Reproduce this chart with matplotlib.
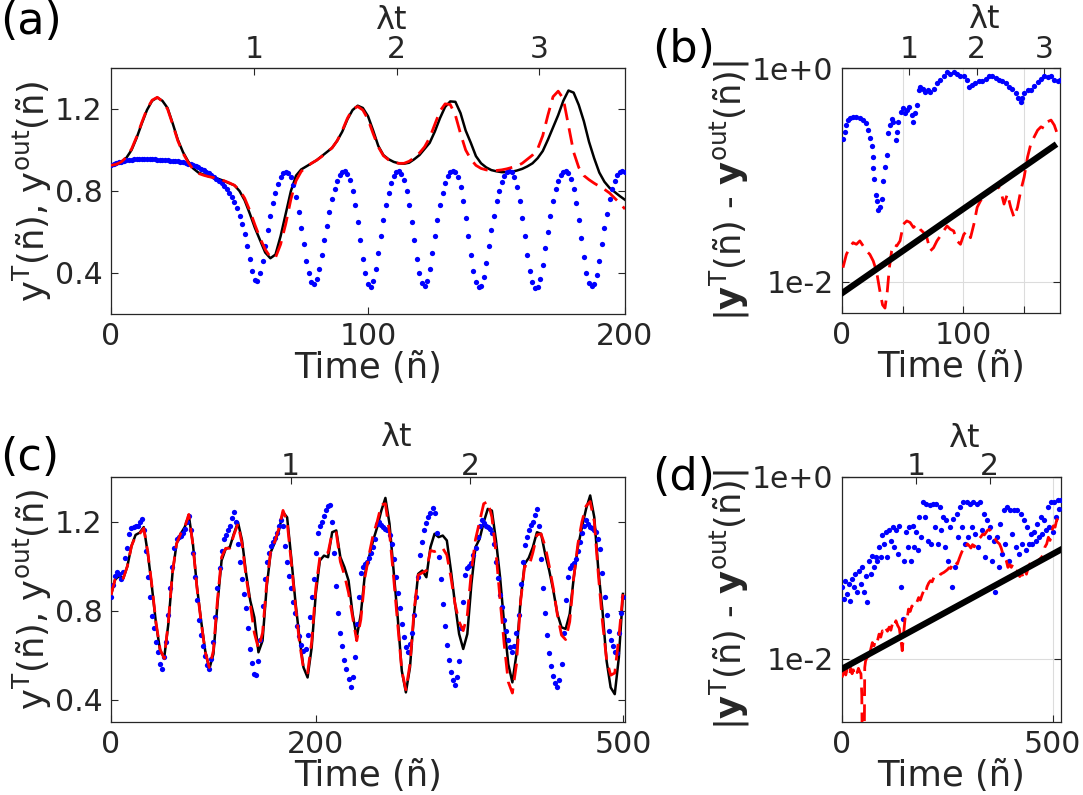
import numpy as np
import matplotlib
matplotlib.use("Agg")
import matplotlib.pyplot as plt
from matplotlib.ticker import NullLocator

plt.rcParams["font.family"] = "DejaVu Sans"
plt.rcParams["mathtext.default"] = "regular"
plt.rcParams["font.size"] = 21

lam_ab = 0.018
lam_cd = 0.0057

# ---------------- panel (a) ----------------
t_a_line = np.arange(0, 201, 2)
black_a = [0.925, 0.93, 0.94, 0.962, 1.0, 1.06, 1.13, 1.195, 1.24, 1.256,
           1.24, 1.205, 1.13, 1.05, 0.99, 0.945, 0.91, 0.89, 0.88, 0.872,
           0.866, 0.858, 0.849, 0.838, 0.828, 0.80, 0.755, 0.69, 0.62, 0.56,
           0.5, 0.472, 0.49, 0.58, 0.69, 0.80, 0.875, 0.905, 0.92, 0.935,
           0.95, 0.97, 0.99, 1.01, 1.045, 1.09, 1.15, 1.195, 1.216, 1.205,
           1.165, 1.095, 1.02, 0.975, 0.955, 0.942, 0.935, 0.933, 0.938, 0.955,
           0.975, 1.005, 1.035, 1.09, 1.155, 1.21, 1.237, 1.235, 1.18, 1.095,
           1.035, 0.97, 0.935, 0.915, 0.902, 0.896, 0.892, 0.892, 0.894, 0.9,
           0.908, 0.92, 0.935, 0.96, 0.995, 1.05, 1.11, 1.17, 1.24, 1.29,
           1.28, 1.22, 1.14, 1.04, 0.96, 0.89, 0.845, 0.815, 0.795, 0.775,
           0.757]
red_a = [0.925, 0.93, 0.942, 0.965, 1.005, 1.065, 1.135, 1.2, 1.243, 1.257,
         1.238, 1.2, 1.125, 1.045, 0.985, 0.94, 0.905, 0.886, 0.877, 0.87,
         0.865, 0.858, 0.85, 0.84, 0.828, 0.805, 0.765, 0.705, 0.635, 0.57,
         0.515, 0.478, 0.475, 0.54, 0.64, 0.76, 0.85, 0.895, 0.918, 0.935,
         0.95, 0.968, 0.99, 1.01, 1.045, 1.095, 1.155, 1.2, 1.212, 1.195,
         1.15, 1.08, 1.015, 0.972, 0.952, 0.94, 0.935, 0.935, 0.945, 0.962,
         0.985, 1.015, 1.06, 1.125, 1.19, 1.225, 1.222, 1.17, 1.08, 1.0,
         0.955, 0.925, 0.91, 0.903, 0.9, 0.9, 0.903, 0.908, 0.915, 0.922,
         0.935, 0.955, 0.975, 1.005, 1.07, 1.17, 1.26, 1.287, 1.25, 1.12,
         0.99, 0.915, 0.875, 0.855, 0.838, 0.823, 0.808, 0.79, 0.765, 0.74,
         0.712]
t_a_dots = np.arange(0, 201)
blue_a = [0.925, 0.93, 0.935, 0.94, 0.943, 0.946, 0.949, 0.951, 0.953, 0.954,
          0.955, 0.955, 0.956, 0.956, 0.956, 0.955, 0.955, 0.954, 0.953, 0.952,
          0.951, 0.95, 0.949, 0.948, 0.947, 0.945, 0.944, 0.942, 0.94, 0.937,
          0.934, 0.93, 0.926, 0.921, 0.915, 0.909, 0.902, 0.895, 0.887, 0.879,
          0.87, 0.86, 0.85, 0.838, 0.825, 0.81, 0.79, 0.77, 0.745, 0.715,
          0.68, 0.64, 0.59, 0.53, 0.47, 0.41, 0.365, 0.36, 0.40, 0.46,
          0.53, 0.61, 0.68, 0.74, 0.79, 0.835, 0.87, 0.888, 0.895, 0.89,
          0.87, 0.83, 0.77, 0.70, 0.62, 0.54, 0.46, 0.40, 0.355, 0.345,
          0.37, 0.42, 0.49, 0.56, 0.63, 0.70, 0.76, 0.81, 0.85, 0.88,
          0.895, 0.898, 0.885, 0.855, 0.80, 0.73, 0.65, 0.56, 0.47, 0.40,
          0.345, 0.33, 0.36, 0.42, 0.50, 0.58, 0.66, 0.73, 0.79, 0.84,
          0.875, 0.893, 0.897, 0.885, 0.855, 0.80, 0.73, 0.65, 0.56, 0.47,
          0.40, 0.35, 0.335, 0.36, 0.42, 0.50, 0.58, 0.66, 0.73, 0.79,
          0.84, 0.875, 0.895, 0.9, 0.895, 0.87, 0.82, 0.75, 0.67, 0.58,
          0.49, 0.41, 0.355, 0.33, 0.335, 0.38, 0.45, 0.53, 0.61, 0.68,
          0.75, 0.80, 0.845, 0.875, 0.893, 0.9, 0.895, 0.87, 0.82, 0.75,
          0.67, 0.58, 0.49, 0.41, 0.355, 0.325, 0.33, 0.37, 0.44, 0.52,
          0.60, 0.68, 0.75, 0.81, 0.85, 0.88, 0.895, 0.9, 0.89, 0.86,
          0.81, 0.74, 0.66, 0.57, 0.48, 0.40, 0.35, 0.335, 0.345, 0.39,
          0.46, 0.54, 0.62, 0.69, 0.76, 0.81, 0.85, 0.88, 0.895, 0.9,
          0.895]

# ---------------- panel (b) ----------------
t_b_blue = [0.8, 2.2, 3.6, 5.0, 6.9, 9.1, 11.9, 14.7, 17.5, 20.2,
            21.6, 23.0, 24.4, 25.2, 25.8, 26.6, 27.7, 28.5, 29.9, 31.3,
            32.7, 34.1, 35.5, 36.8, 38.2, 39.6, 41.0, 42.4, 44.6, 45.2,
            46.5, 48.5, 50.1, 52.1, 54.0, 55.7, 57.6, 59.0, 60.4, 61.8,
            63.2, 64.5, 66.8, 68.7, 70.6, 72.9, 75.6, 78.4, 81.2, 83.9,
            86.7, 89.5, 92.2, 95.0, 97.8, 100.6, 102.8, 104.7, 107.5, 110.2,
            113.0, 115.8, 118.6, 121.3, 124.1, 126.9, 129.6, 132.4, 135.2, 137.9,
            140.7, 143.5, 145.4, 147.6, 149.0, 150.4, 153.2, 156.0, 158.7, 161.5,
            164.3, 167.0, 169.8, 172.6, 175.3, 178.1, 180.3]
blue_b = [0.219, 0.253, 0.292, 0.326, 0.338, 0.345, 0.345, 0.338, 0.326, 0.308,
          0.262, 0.224, 0.187, 0.147, 0.117, 0.092, 0.0655, 0.0575, 0.047, 0.0498,
          0.0597, 0.0887, 0.119, 0.153, 0.248, 0.292, 0.331, 0.315, 0.211, 0.253,
          0.315, 0.391, 0.42, 0.382, 0.406, 0.43, 0.363, 0.315, 0.377, 0.452,
          0.625, 0.671, 0.634, 0.603, 0.625, 0.603, 0.634, 0.723, 0.766, 0.836,
          0.91, 0.885, 0.91, 0.885, 0.847, 0.847, 0.776, 0.662, 0.697, 0.723,
          0.748, 0.748, 0.787, 0.836, 0.847, 0.805, 0.776, 0.748, 0.723, 0.671,
          0.634, 0.582, 0.521, 0.485, 0.521, 0.582, 0.617, 0.625, 0.682, 0.733,
          0.787, 0.836, 0.822, 0.847, 0.776, 0.748, 0.776]
t_b_red = [0.8, 3.6, 6.4, 9.1, 11.9, 14.7, 17.5, 20.2, 23.0, 25.8,
           28.5, 31.3, 33.5, 35.5, 37.4, 39.1, 41.0, 42.9, 45.2, 47.9,
           50.7, 53.5, 56.2, 59.0, 61.8, 64.5, 67.3, 70.1, 72.9, 75.6,
           78.4, 81.2, 83.9, 86.7, 89.5, 92.2, 95.0, 97.8, 100.6, 103.3,
           106.1, 108.9, 111.6, 114.4, 117.2, 119.9, 122.7, 125.5, 128.3, 131.0,
           133.8, 136.6, 139.3, 142.1, 144.9, 147.6, 150.4, 153.2, 156.0, 158.7,
           161.5, 164.3, 167.0, 169.8, 172.6, 175.3, 178.1]
red_b = [0.0136, 0.0181, 0.0209, 0.0233, 0.0225, 0.0242, 0.0217, 0.0195, 0.0181, 0.0157,
         0.0126, 0.0082, 0.0061, 0.0057, 0.0082, 0.0136, 0.0195, 0.0225, 0.0217, 0.0242,
         0.0347, 0.0372, 0.036, 0.0323, 0.0347, 0.0311, 0.029, 0.0259, 0.0195, 0.0209,
         0.0242, 0.0269, 0.03, 0.0334, 0.0311, 0.03, 0.0242, 0.0225, 0.0279, 0.03,
         0.0259, 0.0347, 0.0498, 0.0575, 0.0618, 0.0665, 0.0714, 0.0767, 0.0796, 0.0714,
         0.0535, 0.0665, 0.0498, 0.0401, 0.0498, 0.0714, 0.0955, 0.147, 0.197, 0.227,
         0.262, 0.282, 0.272, 0.315, 0.326, 0.292, 0.236]
t_b_fit = [1, 175]
fit_b = [0.008, 0.187]

# ---------------- panel (c) ----------------
t_c_line = np.arange(0, 501, 4)
black_c = [0.87, 0.94, 0.955, 0.945, 1.0, 1.09, 1.14, 1.15, 1.175, 1.055,
           0.905, 0.74, 0.62, 0.59, 0.74, 0.965, 1.1, 1.145, 1.175, 1.227,
           1.1, 0.905, 0.755, 0.62, 0.538, 0.605, 0.83, 1.025, 1.077, 1.085,
           1.145, 1.197, 1.115, 0.965, 0.845, 0.77, 0.613, 0.665, 0.905, 1.062,
           1.107, 1.16, 1.242, 1.219, 1.04, 0.845, 0.68, 0.545, 0.5, 0.635,
           0.875, 1.025, 1.047, 1.04, 1.152, 1.16, 1.04, 0.995, 0.935, 0.785,
           0.68, 0.785, 0.965, 1.04, 1.115, 1.175, 1.249, 1.306, 1.19, 0.98,
           0.77, 0.53, 0.433, 0.545, 0.785, 0.965, 0.98, 0.95, 1.085, 1.145,
           1.13, 1.137, 1.115, 0.98, 0.83, 0.695, 0.628, 0.695, 0.92, 1.085,
           1.122, 1.197, 1.257, 1.249, 1.115, 0.95, 0.74, 0.56, 0.478, 0.605,
           0.845, 1.01, 1.037, 1.085, 1.152, 1.145, 1.055, 0.98, 0.89, 0.785,
           0.725, 0.718, 0.785, 0.95, 1.085, 1.175, 1.257, 1.317, 1.219, 0.98,
           0.8, 0.575, 0.455, 0.425, 0.59, 0.875]
red_c = [0.87, 0.94, 0.955, 0.945, 1.0, 1.09, 1.135, 1.145, 1.17, 1.06,
         0.91, 0.745, 0.625, 0.585, 0.75, 0.97, 1.1, 1.145, 1.175, 1.232,
         1.095, 0.9, 0.75, 0.615, 0.545, 0.62, 0.85, 1.04, 1.08, 1.08,
         1.14, 1.19, 1.1, 0.95, 0.83, 0.7, 0.63, 0.7, 0.92, 1.07,
         1.11, 1.17, 1.25, 1.2, 1.02, 0.83, 0.66, 0.54, 0.52, 0.66,
         0.9, 1.04, 1.055, 1.06, 1.15, 1.15, 1.02, 0.96, 0.88, 0.77,
         0.665, 0.76, 0.95, 1.05, 1.14, 1.2, 1.275, 1.28, 1.15, 0.95,
         0.74, 0.53, 0.445, 0.56, 0.8, 0.96, 0.97, 0.98, 1.07, 1.065,
         1.075, 1.08, 1.05, 0.95, 0.83, 0.75, 0.71, 0.78, 0.98, 1.12,
         1.2, 1.28, 1.29, 1.22, 1.06, 0.85, 0.65, 0.48, 0.43, 0.56,
         0.84, 1.0, 0.995, 1.06, 1.14, 1.145, 1.09, 1.0, 0.9, 0.78,
         0.69, 0.67, 0.75, 0.95, 1.1, 1.2, 1.27, 1.29, 1.2, 0.96,
         0.75, 0.58, 0.51, 0.52, 0.68, 0.875]
t_c_dots = np.arange(0, 501, 2)
blue_c = [0.86, 0.915, 0.957, 0.972, 0.965, 0.94, 0.975, 1.035, 1.08, 1.145,
          1.17, 1.175, 1.178, 1.182, 1.2, 1.21, 1.16, 1.07, 0.95, 0.86,
          0.775, 0.72, 0.66, 0.615, 0.56, 0.54, 0.59, 0.66, 0.78, 0.9,
          0.995, 1.08, 1.12, 1.13, 1.137, 1.15, 1.165, 1.2, 1.225, 1.16,
          1.06, 0.95, 0.85, 0.76, 0.69, 0.64, 0.595, 0.555, 0.54, 0.585,
          0.66, 0.77, 0.9, 0.99, 1.07, 1.12, 1.14, 1.16, 1.18, 1.215,
          1.245, 1.2, 1.1, 1.02, 0.94, 0.875, 0.81, 0.72, 0.63, 0.565,
          0.515, 0.51, 0.575, 0.67, 0.82, 0.94, 1.02, 1.06, 1.09, 1.11,
          1.125, 1.15, 1.18, 1.205, 1.18, 1.09, 1.02, 0.955, 0.9, 0.84,
          0.79, 0.73, 0.685, 0.645, 0.62, 0.63, 0.69, 0.77, 0.86, 0.94,
          1.06, 1.15, 1.18, 1.2, 1.225, 1.25, 1.27, 1.275, 1.2, 1.06,
          0.91, 0.79, 0.7, 0.64, 0.58, 0.54, 0.495, 0.455, 0.5, 0.59,
          0.74, 0.86, 0.97, 0.995, 1.01, 1.02, 1.035, 1.06, 1.085, 1.12,
          1.19, 1.2, 1.185, 1.175, 1.165, 1.16, 1.14, 1.1, 1.03, 0.95,
          0.88, 0.81, 0.74, 0.68, 0.635, 0.615, 0.65, 0.7, 0.78, 0.86,
          0.95, 1.05, 1.11, 1.16, 1.195, 1.22, 1.24, 1.26, 1.24, 1.15,
          1.04, 0.94, 0.83, 0.73, 0.645, 0.58, 0.525, 0.49, 0.465, 0.5,
          0.575, 0.72, 0.84, 0.96, 0.99, 1.0, 1.015, 1.05, 1.08, 1.13,
          1.18, 1.205, 1.195, 1.18, 1.175, 1.165, 1.15, 1.1, 1.02, 0.945,
          0.87, 0.815, 0.76, 0.71, 0.67, 0.635, 0.615, 0.64, 0.7, 0.78,
          0.92, 1.02, 1.095, 1.13, 1.16, 1.185, 1.2, 1.23, 1.255, 1.18,
          1.03, 0.9, 0.79, 0.69, 0.61, 0.55, 0.505, 0.475, 0.458, 0.49,
          0.56, 0.7, 0.85, 0.95, 0.99, 1.005, 1.015, 1.03, 1.07, 1.11,
          1.15, 1.18, 1.205, 1.19, 1.176, 1.17, 1.162, 1.155, 1.12, 1.075,
          0.97, 0.86, 0.78, 0.71, 0.67, 0.64, 0.615, 0.61, 0.7, 0.79,
          0.86]

# ---------------- panel (d) ----------------
t_d_blue = np.arange(0, 521, 4)
blue_d = [0.0609, 0.0453, 0.0721, 0.0514, 0.0662, 0.0434, 0.0753, 0.0609, 0.0855, 0.0536,
          0.0931, 0.0662, 0.1014, 0.0536, 0.0819, 0.0416, 0.120, 0.0855, 0.136, 0.1014,
          0.1306, 0.120, 0.1685, 0.1306, 0.227, 0.183, 0.247, 0.1306, 0.258, 0.1995,
          0.281, 0.1685, 0.258, 0.142, 0.292, 0.0609, 0.0272, 0.120, 0.247, 0.1685,
          0.281, 0.120, 0.292, 0.1685, 0.247, 0.155, 0.361, 0.217, 0.530, 0.361,
          0.507, 0.1995, 0.486, 0.183, 0.507, 0.281, 0.507, 0.183, 0.466, 0.258,
          0.361, 0.1685, 0.332, 0.120, 0.281, 0.0609, 0.347, 0.1014, 0.394, 0.217,
          0.466, 0.281, 0.530, 0.183, 0.530, 0.217, 0.507, 0.281, 0.530, 0.237,
          0.507, 0.1685, 0.530, 0.258, 0.394, 0.1306, 0.332, 0.217, 0.281, 0.120,
          0.1995, 0.0536, 0.217, 0.1014, 0.305, 0.142, 0.428, 0.183, 0.466, 0.120,
          0.428, 0.237, 0.428, 0.1685, 0.428, 0.142, 0.394, 0.183, 0.332, 0.155,
          0.281, 0.183, 0.237, 0.183, 0.247, 0.1995, 0.305, 0.217, 0.361, 0.237,
          0.332, 0.258, 0.466, 0.281, 0.530, 0.247, 0.530, 0.361, 0.552, 0.447,
          0.552]
t_d_red = [0, 3, 6, 9, 12, 15, 18, 21, 24, 27,
           30, 33, 36, 39, 42, 45, 47, 48, 49, 50,
           52, 53, 54, 56, 60, 64, 68, 72, 76, 80,
           84, 88, 92, 96, 100, 104, 108, 112, 116, 120,
           124, 128, 132, 136, 140, 143, 146, 150, 154, 158,
           162, 166, 170, 174, 178, 182, 186, 190, 194, 198,
           202, 206, 210, 214, 218, 222, 226, 230, 234, 238,
           242, 246, 250, 254, 258, 262, 266, 270, 274, 278,
           282, 286, 290, 294, 298, 302, 306, 310, 314, 318,
           322, 326, 330, 334, 338, 342, 346, 350, 354, 358,
           362, 366, 370, 374, 378, 382, 386, 390, 394, 398,
           402, 406, 410, 414, 418, 422, 426, 430, 434, 438,
           442, 446, 450, 454, 458, 462, 466, 470, 474, 478,
           482, 486, 490, 494, 498, 502, 506, 510, 514, 518]
red_d = [0.0062, 0.0068, 0.0072, 0.0066, 0.0076, 0.0073, 0.0065, 0.0078, 0.0068, 0.0075,
         0.0067, 0.0074, 0.0070, 0.0078, 0.0072, 0.0068, 0.0040, 0.0012, 0.0004, 0.0003,
         0.0005, 0.0015, 0.008, 0.0094, 0.0105, 0.0098, 0.0125, 0.0150, 0.0138, 0.0165,
         0.0155, 0.0186, 0.0172, 0.0202, 0.0190, 0.0215, 0.0200, 0.0222, 0.0205, 0.0245,
         0.0226, 0.0261, 0.0232, 0.0215, 0.0160, 0.0122, 0.0180, 0.0284, 0.0265, 0.0351,
         0.0330, 0.0380, 0.0360, 0.0398, 0.0420, 0.0470, 0.0440, 0.050, 0.056, 0.052,
         0.062, 0.068, 0.072, 0.070, 0.078, 0.080, 0.082, 0.079, 0.085, 0.087,
         0.089, 0.092, 0.095, 0.100, 0.098, 0.110, 0.120, 0.115, 0.110, 0.125,
         0.140, 0.155, 0.150, 0.170, 0.183, 0.175, 0.165, 0.180, 0.170, 0.190,
         0.200, 0.210, 0.220, 0.235, 0.230, 0.245, 0.260, 0.265, 0.245, 0.225,
         0.215, 0.200, 0.190, 0.183, 0.165, 0.142, 0.130, 0.120, 0.101, 0.108,
         0.101, 0.110, 0.095, 0.093, 0.086, 0.080, 0.090, 0.078, 0.094, 0.085,
         0.100, 0.110, 0.120, 0.105, 0.115, 0.110, 0.120, 0.125, 0.131, 0.140,
         0.170, 0.183, 0.217, 0.200, 0.250, 0.290, 0.280, 0.340, 0.330, 0.390]
t_d_fit = [2, 518]
fit_d = [0.0078, 0.157]

# ---------------- drawing ----------------
W, H = 1083, 795
fig = plt.figure(figsize=(W / 100, H / 100), dpi=100)

def box(x0, y0, x1, y1):
    return [x0 / W, 1 - y1 / H, (x1 - x0) / W, (y1 - y0) / H]

ax_a = fig.add_axes(box(111, 68, 625, 314))
ax_b = fig.add_axes(box(842, 68, 1060, 313))
ax_c = fig.add_axes(box(111, 477, 625, 722))
ax_d = fig.add_axes(box(842, 477, 1061, 722))

ink = "#262626"
blue = "#0000ff"
red = "#ff0000"
tick_fs = 21.5
label_fs = 25.5
ms = 3.8
dash = (6, 3)


def style(ax, lam, top_ticks, top_pad, lam_xy):
    for s in ax.spines.values():
        s.set_color(ink)
        s.set_linewidth(0.9)
    ax.tick_params(direction="in", length=5, width=0.8, colors=ink,
                   labelsize=tick_fs, right=True, top=False, pad=6)
    sec = ax.secondary_xaxis("top", functions=(lambda t: t * lam, lambda s: s / lam))
    sec.set_xticks(top_ticks)
    sec.tick_params(direction="in", length=5, width=0.8, colors=ink,
                    labelsize=tick_fs, pad=top_pad)
    ax.text(lam_xy[0], lam_xy[1], "λt", transform=ax.transAxes, fontsize=23,
            color=ink, ha="center", va="center")
    ax.set_xlabel("Time (ñ)", fontsize=label_fs, color=ink, labelpad=0)


# (a)
ax_a.plot(t_a_dots, blue_a, "o", ms=ms, mew=0, color=blue, zorder=3)
ax_a.plot(t_a_line, black_a, "-", lw=1.8, color="black", zorder=2)
ax_a.plot(t_a_line, red_a, "--", lw=2, color=red, dashes=dash, zorder=4)
ax_a.set_xlim(0, 200)
ax_a.set_ylim(0.2, 1.4)
ax_a.set_xticks([0, 100, 200])
ax_a.set_yticks([0.4, 0.8, 1.2])
style(ax_a, lam_ab, [1, 2, 3], 3, (0.547, 1.195))
ax_a.set_ylabel(r"y$^{T}$(ñ), y$^{out}$(ñ)", fontsize=label_fs, color=ink, labelpad=1)

# (b)
ax_b.set_yscale("log")
ax_b.grid(True, color="#dcdcdc", lw=0.8)
ax_b.plot(t_b_blue, blue_b, "o", ms=ms, mew=0, color=blue, zorder=3)
ax_b.plot(t_b_red, red_b, "--", lw=2, color=red, dashes=dash, zorder=3)
ax_b.plot(t_b_fit, fit_b, "-", lw=4.5, color="black", zorder=4)
ax_b.set_xlim(0, 180)
ax_b.set_ylim(10 ** -2.29, 1)
ax_b.set_xticks([0, 50, 100, 150])
ax_b.set_xticklabels(["0", "", "100", ""])
ax_b.set_yticks([1e-2, 1e0])
ax_b.set_yticklabels(["1e-2", "1e+0"])
ax_b.yaxis.set_minor_locator(NullLocator())
style(ax_b, lam_ab, [1, 2, 3], 3, (0.656, 1.196))
ax_b.set_ylabel(r"|$\mathbf{y}^{T}$(ñ) - $\mathbf{y}^{out}$(ñ)|", fontsize=label_fs,
                color=ink, labelpad=0)

# (c)
ax_c.plot(t_c_dots, blue_c, "o", ms=ms, mew=0, color=blue, zorder=3)
ax_c.plot(t_c_line, black_c, "-", lw=1.8, color="black", zorder=2)
ax_c.plot(t_c_line, red_c, "--", lw=2, color=red, dashes=dash, zorder=4)
ax_c.set_xlim(0, 502)
ax_c.set_ylim(0.3, 1.4)
ax_c.set_xticks([0, 200, 500])
ax_c.set_yticks([0.4, 0.8, 1.2])
style(ax_c, lam_cd, [1, 2], -3, (0.555, 1.163))
ax_c.set_ylabel(r"y$^{T}$(ñ), y$^{out}$(ñ)", fontsize=label_fs, color=ink, labelpad=1)

# (d)
ax_d.set_yscale("log")
ax_d.grid(True, color="#dcdcdc", lw=0.8)
ax_d.plot(t_d_blue, blue_d, "o", ms=ms, mew=0, color=blue, zorder=3)
ax_d.plot(t_d_red, red_d, "--", lw=2, color=red, dashes=dash, zorder=3)
ax_d.plot(t_d_fit, fit_d, "-", lw=4.5, color="black", zorder=4)
ax_d.set_xlim(0, 520)
ax_d.set_ylim(2e-3, 1)
ax_d.set_xticks([0, 500])
ax_d.set_yticks([1e-2, 1e0])
ax_d.set_yticklabels(["1e-2", "1e+0"])
ax_d.yaxis.set_minor_locator(NullLocator())
style(ax_d, lam_cd, [1, 2], -3, (0.56, 1.159))
ax_d.set_ylabel(r"|$\mathbf{y}^{T}$(ñ) - $\mathbf{y}^{out}$(ñ)|", fontsize=label_fs,
                color=ink, labelpad=0)

# panel letters
fig.text(0.0, 1.0, "(a)", fontsize=32, va="top", ha="left")
fig.text(652 / W, 1 - 28 / H, "(b)", fontsize=32, va="top", ha="left")
fig.text(0.0, 1 - 436 / H, "(c)", fontsize=32, va="top", ha="left")
fig.text(652 / W, 1 - 456 / H, "(d)", fontsize=32, va="top", ha="left")

fig.savefig("out.png", dpi=100)
